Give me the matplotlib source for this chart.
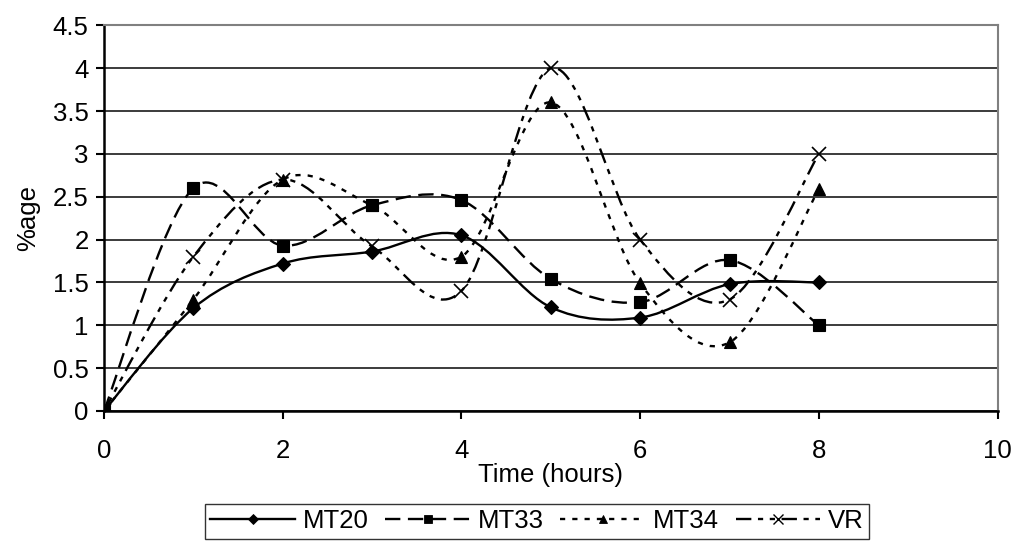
import numpy as np
import matplotlib.pyplot as plt
from matplotlib.path import Path
from matplotlib.patches import PathPatch
from matplotlib.lines import Line2D
from matplotlib.ticker import MultipleLocator, FormatStrFormatter

plt.rcParams['font.family'] = ['Liberation Sans', 'DejaVu Sans']

# data
hours = [0, 1, 2, 3, 4, 5, 6, 7, 8]
mt20 = [0, 1.2, 1.72, 1.86, 2.05, 1.21, 1.09, 1.48, 1.5]
mt33 = [0, 2.6, 1.93, 2.4, 2.46, 1.54, 1.27, 1.76, 1.0]
mt34 = [0, 1.3, 2.7, 2.4, 1.8, 3.6, 1.49, 0.8, 2.59]
vr = [0, 1.8, 2.7, 1.92, 1.4, 4.0, 2.0, 1.3, 3.0]

names = ["MT20", "MT33", "MT34", "VR"]
values = [mt20, mt33, mt34, vr]
markers = ["D", "s", "^", "x"]
msizes = [7.5, 8, 8.5, 9.5]
lw = 1.7
dashes = ["-", (0, (6.5, 3.2)), (0, (2.2, 3.0)), (0, (6.5, 2.8, 2.2, 2.8, 2.2, 2.8))]
FS = 18.5


def smooth_path(x, y):
    # Excel-like smoothed line: cubic bezier through each point
    p = np.column_stack([x, y]).astype(float)
    n = len(p)
    verts = [p[0]]
    codes = [Path.MOVETO]
    for i in range(n - 1):
        p0 = p[max(i - 1, 0)]
        p1 = p[i]
        p2 = p[i + 1]
        p3 = p[min(i + 2, n - 1)]
        c1 = p1 + (p2 - p0) / 6
        c2 = p2 - (p3 - p1) / 6
        verts += [c1, c2, p2]
        codes += [Path.CURVE4] * 3
    return Path(verts, codes)


fig = plt.figure(figsize=(10.19, 5.44), dpi=100)
ax = fig.add_axes([0.102, 0.2445, 0.877, 0.709])

handles = []
for name, vals, mk, ms, ls in zip(names, values, markers, msizes, dashes):
    patch = PathPatch(smooth_path(hours, vals), fill=False, edgecolor='black',
                      linewidth=lw, linestyle=ls, zorder=3)
    ax.add_patch(patch)
    ax.plot(hours, vals, linestyle='none', marker=mk, markersize=ms,
            color='black', markeredgewidth=1.2 if mk == 'x' else 0.8, zorder=4)
    handles.append(Line2D([], [], color='black', linewidth=lw, linestyle=ls,
                          marker=mk, markersize=ms * 0.7,
                          markeredgewidth=1.0 if mk == 'x' else 0.6))

ax.set_xlim(0, 10)
ax.set_ylim(0, 4.5)
ax.xaxis.set_major_locator(MultipleLocator(2))
ax.yaxis.set_major_locator(MultipleLocator(0.5))
ax.yaxis.set_major_formatter(FormatStrFormatter('%g'))
ax.yaxis.grid(True, color='#1a1a1a', linewidth=1.2)
ax.set_axisbelow(True)

for side in ['left', 'bottom']:
    ax.spines[side].set_linewidth(1.8)
    ax.spines[side].set_color('black')
for side in ['top', 'right']:
    ax.spines[side].set_linewidth(1.5)
    ax.spines[side].set_color('#808080')

ax.tick_params(axis='both', direction='out', length=6, width=1.5,
               labelsize=FS, colors='black')
ax.tick_params(axis='y', pad=5)
ax.tick_params(axis='x', pad=14)
ax.set_xlabel("Time (hours)", fontsize=FS, labelpad=0)
ax.set_ylabel("%age", fontsize=FS, labelpad=9)

leg = fig.legend(handles, names, loc='lower center', ncol=4,
                 bbox_to_anchor=(0.527, 0.01), fontsize=FS, frameon=True,
                 fancybox=False, edgecolor='black', handlelength=3.3,
                 handletextpad=0.3, columnspacing=0.65, borderpad=0.2,
                 borderaxespad=0)
leg.get_frame().set_linewidth(1.0)

fig.savefig("out.png", dpi=100)
